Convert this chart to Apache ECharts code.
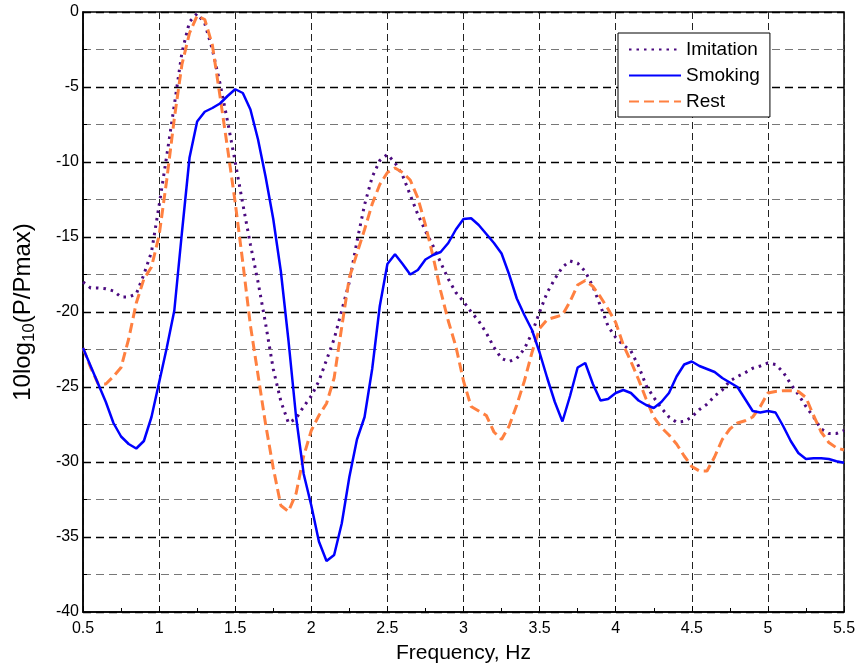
<!DOCTYPE html>
<html>
<head>
<meta charset="utf-8">
<script src="https://cdn.jsdelivr.net/npm/echarts@6/dist/echarts.min.js"></script>
<style>
  html, body { margin: 0; padding: 0; background: #fff; }
  #charts { width: 855px; height: 664px; }
</style>
</head>
<body>
<div id="charts"></div>
<script>
// frequency axis (Hz)
var freq = [0.5, 0.55, 0.6, 0.65, 0.7, 0.75, 0.8, 0.85, 0.9, 0.95,
  1.0, 1.05, 1.1, 1.15, 1.2, 1.25, 1.3, 1.35, 1.4, 1.45,
  1.5, 1.55, 1.6, 1.65, 1.7, 1.75, 1.8, 1.85, 1.9, 1.95,
  2.0, 2.05, 2.1, 2.15, 2.2, 2.25, 2.3, 2.35, 2.4, 2.45,
  2.5, 2.55, 2.6, 2.65, 2.7, 2.75, 2.8, 2.85, 2.9, 2.95,
  3.0, 3.05, 3.1, 3.15, 3.2, 3.25, 3.3, 3.35, 3.4, 3.45,
  3.5, 3.55, 3.6, 3.65, 3.7, 3.75, 3.8, 3.85, 3.9, 3.95,
  4.0, 4.05, 4.1, 4.15, 4.2, 4.25, 4.3, 4.35, 4.4, 4.45,
  4.5, 4.55, 4.6, 4.65, 4.7, 4.75, 4.8, 4.85, 4.9, 4.95,
  5.0, 5.05, 5.1, 5.15, 5.2, 5.25, 5.3, 5.35, 5.4, 5.45, 5.5];

var imitation = [-18.0, -18.4, -18.4, -18.45, -18.6, -19.0, -19.0, -18.8, -17.5, -16.0,
  -12.9, -9.6, -6.2, -2.7, -0.65, -0.1, -0.75, -2.5, -4.75, -7.3,
  -10.0, -12.8, -15.5, -18.0, -20.8, -23.8, -25.95, -27.4, -27.1, -26.3,
  -25.6, -24.6, -23.2, -21.8, -19.9, -18.0, -15.3, -12.85, -11.0, -9.9,
  -9.5, -10.05, -10.9, -12.2, -13.5, -14.6, -15.6, -16.7, -17.8, -18.7,
  -19.3, -20.0, -20.6, -21.4, -22.35, -23.1, -23.3, -23.1, -22.45, -21.4,
  -20.0, -18.7, -17.8, -17.0, -16.6, -16.75, -17.3, -18.3, -19.6, -20.95,
  -21.7, -22.2, -22.6, -23.6, -24.9, -25.7, -26.4, -27.0, -27.35, -27.3,
  -27.0, -26.5, -26.15, -25.6, -25.2, -24.6, -24.3, -24.05, -23.75, -23.6,
  -23.4, -23.5, -24.0, -24.8, -25.5, -26.3, -27.0, -27.8, -28.1, -28.1, -27.9];

var smoking = [-22.4, -23.6, -24.8, -26.0, -27.4, -28.3, -28.8, -29.1, -28.6, -27.0,
  -24.7, -22.4, -19.9, -14.7, -9.7, -7.3, -6.65, -6.4, -6.1, -5.6,
  -5.15, -5.4, -6.5, -8.5, -11.0, -13.8, -17.3, -21.9, -27.0, -30.8,
  -32.9, -35.3, -36.6, -36.2, -34.1, -31.0, -28.5, -27.0, -23.8, -19.6,
  -16.8, -16.15, -16.8, -17.5, -17.2, -16.5, -16.2, -16.0, -15.4, -14.5,
  -13.8, -13.75, -14.2, -14.8, -15.4, -16.1, -17.5, -19.1, -20.2, -21.2,
  -22.7, -24.4, -26.0, -27.3, -25.6, -23.7, -23.4, -24.8, -25.9, -25.8,
  -25.4, -25.2, -25.4, -25.9, -26.2, -26.4, -26.0, -25.4, -24.3, -23.5,
  -23.3, -23.6, -23.8, -24.0, -24.4, -24.7, -25.0, -25.8, -26.6, -26.7,
  -26.6, -26.7, -27.6, -28.6, -29.4, -29.8, -29.75, -29.75, -29.8, -29.95, -30.05];

var rest = [-22.4, -23.7, -24.8, -24.8, -24.3, -23.7, -21.8, -19.4, -17.8, -17.0,
  -14.9, -11.2, -7.1, -3.5, -1.4, -0.25, -0.5, -2.2, -5.6, -9.1,
  -12.7, -16.7, -20.9, -24.2, -27.5, -30.4, -32.9, -33.3, -32.1, -29.6,
  -27.9, -26.9, -26.1, -24.4, -21.0, -17.7, -16.1, -14.5, -12.8, -11.5,
  -10.7, -10.4, -10.7, -11.2, -12.4, -14.2, -16.3, -18.6, -20.6, -22.3,
  -24.6, -26.3, -26.6, -26.9, -28.0, -28.5, -27.6, -26.2, -24.6, -22.7,
  -21.1, -20.5, -20.35, -20.2, -19.3, -18.2, -17.9, -18.3, -19.0, -19.8,
  -20.7, -22.2, -23.3, -24.5, -25.8, -27.0, -27.7, -28.2, -28.8, -29.6,
  -30.3, -30.6, -30.6, -29.65, -28.5, -27.8, -27.4, -27.25, -27.0, -26.3,
  -25.4, -25.3, -25.25, -25.25, -25.3, -25.7, -26.9, -28.0, -28.7, -29.05, -29.2];

var xTicks = [0.5, 1, 1.5, 2, 2.5, 3, 3.5, 4, 4.5, 5, 5.5];

function pairs(ys) {
  var out = [];
  for (var i = 0; i < freq.length; i++) out.push([freq[i], ys[i]]);
  return out;
}

var chart = echarts.init(document.getElementById('charts'));
var font = '"Liberation Sans", Arial, sans-serif';
var option = {
  animation: false,
  backgroundColor: '#fff',
  grid: {
    left: 83, right: 11, top: 12, bottom: 52,
    outerBoundsMode: 'none', containLabel: false,
    show: true, borderColor: '#000', borderWidth: 1.5, backgroundColor: '#fff'
  },
  legend: {
    orient: 'vertical',
    left: 618, top: 33,
    padding: [7, 10, 6, 10],
    itemWidth: 52, itemHeight: 14, itemGap: 7,
    backgroundColor: '#fff',
    borderColor: '#000', borderWidth: 1,
    itemStyle: { opacity: 0 },
    textStyle: { fontFamily: font, fontSize: 19, color: '#000' },
    data: ['Imitation', 'Smoking', 'Rest']
  },
  xAxis: {
    type: 'value', min: 0.5, max: 5.5, interval: 0.5,
    name: 'Frequency, Hz', nameLocation: 'middle', nameGap: 31,
    nameTextStyle: { fontFamily: font, fontSize: 21, color: '#000' },
    axisLine: { onZero: false, lineStyle: { color: '#000', width: 1.5 } },
    axisTick: { inside: true, length: 6, lineStyle: { color: '#000' } },
    minorTick: { show: true, splitNumber: 2, length: 4, lineStyle: { color: '#000' } },
    axisLabel: {
      fontFamily: font, fontSize: 16, color: '#000', margin: 9,
      customValues: xTicks,
      formatter: function (v) { return String(v); }
    },
    splitLine: { show: true, lineStyle: { color: '#222', type: [7, 4], width: 1 } }
  },
  yAxis: {
    type: 'value', min: -40, max: 0, interval: 5,
    name: '10log{s|10}(P/Pmax)', nameLocation: 'middle', nameGap: 45,
    nameTextStyle: {
      fontFamily: font, fontSize: 24, color: '#000',
      rich: { s: { fontSize: 17, verticalAlign: 'bottom', padding: [12, 0, 0, 0], fontFamily: font } }
    },
    axisLine: { onZero: false, lineStyle: { color: '#000', width: 1.5 } },
    axisTick: { inside: true, length: 6, lineStyle: { color: '#000' } },
    minorTick: { show: true, splitNumber: 2, length: 4, lineStyle: { color: '#000' } },
    axisLabel: { fontFamily: font, fontSize: 16, color: '#000', margin: 4 },
    splitLine: { show: true, lineStyle: { color: '#000', type: [8, 5], width: 1.3 } },
    minorSplitLine: { show: true, lineStyle: { color: '#777', type: [8, 5], width: 1.2 } }
  },
  series: [
    {
      name: 'Imitation', type: 'line', data: pairs(imitation),
      showSymbol: false, symbol: 'none', z: 3,
      itemStyle: { color: '#4B0A7F' },
      lineStyle: { color: '#4B0A7F', width: 3, type: [2.5, 5], cap: 'butt' }
    },
    {
      name: 'Smoking', type: 'line', data: pairs(smoking),
      showSymbol: false, symbol: 'none', z: 4,
      itemStyle: { color: '#0000FF' },
      lineStyle: { color: '#0000FF', width: 2.5 }
    },
    {
      name: 'Rest', type: 'line', data: pairs(rest),
      showSymbol: false, symbol: 'none', z: 3,
      itemStyle: { color: '#FF8040' },
      lineStyle: { color: '#FF8040', width: 3, type: [10, 5] }
    }
  ]
};
chart.setOption(option);
</script>
</body>
</html>
